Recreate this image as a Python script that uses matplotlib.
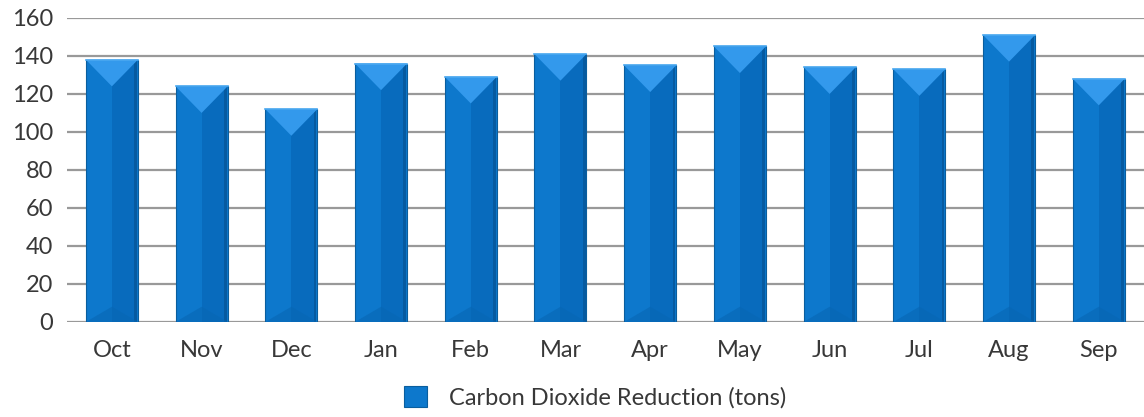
import matplotlib.pyplot as plt
import numpy as np
from matplotlib.patches import Polygon, Rectangle

months = ['Oct', 'Nov', 'Dec', 'Jan', 'Feb', 'Mar', 'Apr', 'May', 'Jun', 'Jul', 'Aug', 'Sep']
co2_reduction = [138, 124, 112, 136, 129, 141, 135, 145, 134, 133, 151, 128]
y_ticks = [0, 20, 40, 60, 80, 100, 120, 140, 160]

plt.rcParams['font.family'] = ['Lato', 'DejaVu Sans']

fig = plt.figure(figsize=(11.44, 4.17), dpi=100)
ax = fig.add_axes([0.0586, 0.228, 0.945, 0.729])

x = np.arange(len(months))
bw = 0.58
bars = ax.bar(x, co2_reduction, width=bw, color='#0d78cc', edgecolor='#0a5e9e',
              linewidth=0.8, zorder=3, label='Carbon Dioxide Reduction (tons)')

# bevel decoration on each bar
for xi, v in zip(x, co2_reduction):
    l, r = xi - bw / 2, xi + bw / 2
    # slightly darker right half
    ax.add_patch(Rectangle((xi, 0), bw / 2 - 0.01, v, facecolor='#086bbd', edgecolor='none', zorder=3.5))
    # dark right edge
    ax.add_patch(Rectangle((r - bw * 0.07, 0), bw * 0.07 - 0.01, v, facecolor='#065aa0', edgecolor='none', zorder=3.6))
    # lighter top triangle
    ax.add_patch(Polygon([(l, v), (r, v), (xi, v - 14)],
                         closed=True, facecolor='#3399ec', edgecolor='none', zorder=4.1))
    # subtle bottom bevel
    ax.add_patch(Polygon([(l, 0), (r, 0), (xi, 8)],
                         closed=True, facecolor='#0766b4', edgecolor='none', zorder=3.7, alpha=0.6))
    ax.plot([l, r], [v, v], color='#4aa8f0', lw=1.2, zorder=4.2)

ax.set_ylim(0, 160)
ax.set_xlim(-0.5, len(months) - 0.45)
ax.set_yticks(y_ticks)
ax.set_xticks(x)
ax.set_xticklabels(months)
ax.tick_params(axis='both', length=0, labelsize=17, labelcolor='#383838')
ax.tick_params(axis='x', pad=13)
ax.tick_params(axis='y', pad=10)
ax.yaxis.grid(True, color='#999999', linewidth=1.6, zorder=0)
ax.set_axisbelow(True)
for s in ax.spines.values():
    s.set_visible(False)

leg = fig.legend(handles=[bars], loc='center', bbox_to_anchor=(0.52, 0.047), frameon=False,
                 fontsize=17, handlelength=1.0, handleheight=1.0, handletextpad=0.9,
                 borderpad=0)
for t in leg.get_texts():
    t.set_color('#383838')

fig.savefig('out.png', dpi=100)
